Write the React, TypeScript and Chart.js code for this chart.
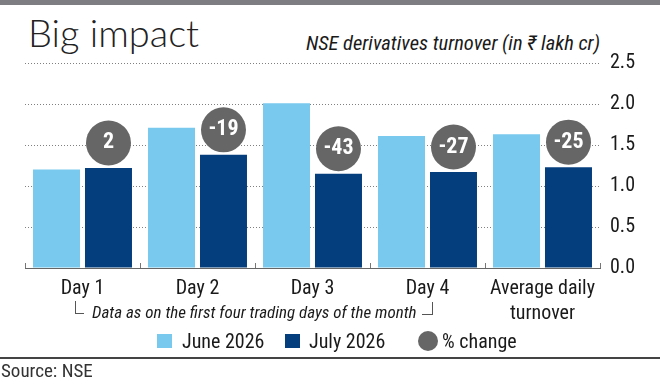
import React, { useEffect, useRef } from "react";
import { Chart, registerables } from "chart.js";

Chart.register(...registerables);

// ---- data ----
const categories: (string | string[])[] = ["Day 1", "Day 2", "Day 3", "Day 4", ["Average daily", "turnover"]];
const june2026 = [1.2, 1.71, 2.01, 1.61, 1.63];
const july2026 = [1.22, 1.38, 1.15, 1.17, 1.23];
const pctChange = [2, -19, -43, -27, -25];
const yMin = 0;
const yMax = 2.5;
const yStep = 0.5;

const NARROW = '"Roboto Condensed", "Open Sans Condensed", sans-serif';
const LIGHT_BLUE = "#79c9ee";
const DARK_BLUE = "#053e7d";
const BADGE_GREY = "#666666";
const TEXT = "#1a1a1a";

const badgePlugin = {
  id: "badges",
  afterDatasetsDraw(chart: any) {
    const meta = chart.getDatasetMeta(1);
    const ctx = chart.ctx as CanvasRenderingContext2D;
    meta.data.forEach((el: any, i: number) => {
      const { x, y } = el.getProps(["x", "y"], true);
      const cy = y - 25;
      ctx.save();
      ctx.beginPath();
      ctx.arc(x, cy, 22.5, 0, Math.PI * 2);
      ctx.fillStyle = BADGE_GREY;
      ctx.fill();
      ctx.fillStyle = "#ffffff";
      ctx.font = `bold 22px ${NARROW}`;
      ctx.textAlign = "center";
      ctx.textBaseline = "middle";
      ctx.fillText(String(pctChange[i]), x, cy);
      ctx.restore();
    });
  },
};

const tickMarksPlugin = {
  id: "upTicks",
  afterDraw(chart: any) {
    const { ctx, chartArea } = chart;
    const n = categories.length;
    const w = (chartArea.right - chartArea.left) / n;
    ctx.save();
    ctx.strokeStyle = "#777";
    ctx.lineWidth = 1;
    for (let i = 0; i <= n; i++) {
      const x = Math.round(chartArea.left + i * w) + 0.5;
      ctx.beginPath();
      ctx.moveTo(x, chartArea.bottom - 5);
      ctx.lineTo(x, chartArea.bottom);
      ctx.stroke();
    }
    ctx.restore();
  },
};

export default function App() {
  const canvasRef = useRef<HTMLCanvasElement | null>(null);

  useEffect(() => {
    if (!canvasRef.current) return;
    const chart = new Chart(canvasRef.current, {
      type: "bar",
      data: {
        labels: categories as any,
        datasets: [
          {
            label: "June 2026",
            data: june2026,
            backgroundColor: LIGHT_BLUE,
            categoryPercentage: 0.904,
            barPercentage: 0.904,
          },
          {
            label: "July 2026",
            data: july2026,
            backgroundColor: DARK_BLUE,
            categoryPercentage: 0.904,
            barPercentage: 0.904,
          },
        ],
      },
      options: {
        responsive: false,
        animation: false,
        devicePixelRatio: 1,
        layout: { padding: { left: 25, top: 63, right: 0, bottom: 0 } },
        plugins: {
          legend: { display: false },
          tooltip: { enabled: false },
          title: { display: false },
        },
        scales: {
          x: {
            grid: { display: false, drawTicks: false },
            border: { display: true, color: "#666", width: 1 },
            ticks: {
              color: TEXT,
              font: { family: NARROW, size: 20, lineHeight: 1.25 },
              padding: 8,
              maxRotation: 0,
              autoSkip: false,
            },
            afterFit(scale: any) {
              scale.height = 113;
            },
          },
          y: {
            position: "right",
            min: yMin,
            max: yMax,
            grid: { color: "#808080", lineWidth: 1, drawTicks: false },
            border: { display: false, dash: [1, 2] },
            ticks: {
              stepSize: yStep,
              color: TEXT,
              padding: 10,
              font: { family: NARROW, size: 20 },
              callback: (v: any) => Number(v).toFixed(1),
            },
            afterFit(scale: any) {
              scale.width = 60;
            },
          },
        },
      },
      plugins: [badgePlugin, tickMarksPlugin],
    });
    return () => chart.destroy();
  }, []);

  const abs = (s: React.CSSProperties): React.CSSProperties => ({ position: "absolute", whiteSpace: "nowrap", ...s });
  const txt = (size: number, extra: React.CSSProperties = {}): React.CSSProperties =>
    abs({ fontFamily: NARROW, fontSize: size, lineHeight: `${size}px`, color: TEXT, ...extra });

  return (
    <div style={{ position: "fixed", left: 0, top: 0, width: 660, height: 381, background: "#fff", overflow: "hidden" }}>
      <div style={abs({ left: 0, top: 0, width: 660, height: 5, background: "#7d7d82" })} />
      <div
        style={abs({
          left: 28,
          top: 13,
          fontFamily: "Lato, sans-serif",
          fontWeight: 300,
          fontSize: 38,
          lineHeight: "38px",
          color: "#222",
        })}
      >
        Big impact
      </div>
      <div style={txt(20.5, { right: 60, top: 32.5, fontStyle: "italic" })}>NSE derivatives turnover (in ₹ lakh cr)</div>
      <canvas ref={canvasRef} width={660} height={381} style={{ position: "absolute", left: 0, top: 0, width: 660, height: 381 }} />
      {/* bracket note */}
      <div style={abs({ left: 75, top: 301, width: 8, height: 12, borderLeft: "1px solid #555", borderBottom: "1px solid #555" })} />
      <div style={abs({ left: 422, top: 302, width: 10, height: 12, borderRight: "1px solid #555", borderBottom: "1px solid #555" })} />
      <div style={txt(17, { left: 92, top: 304, fontStyle: "italic" })}>Data as on the first four trading days of the month</div>
      {/* legend */}
      <div style={abs({ left: 157, top: 334, width: 15, height: 14, background: LIGHT_BLUE })} />
      <div style={txt(20, { left: 182, top: 331 })}>June 2026</div>
      <div style={abs({ left: 285, top: 334, width: 15, height: 14, background: DARK_BLUE })} />
      <div style={txt(20, { left: 309, top: 331 })}>July 2026</div>
      <div style={abs({ left: 418, top: 331, width: 20, height: 20, borderRadius: 10, background: BADGE_GREY })} />
      <div style={txt(20, { left: 442, top: 331 })}>% change</div>
      {/* source */}
      <div style={abs({ left: 0, top: 357, width: 660, height: 2, background: "#444" })} />
      <div style={txt(19, { left: 1, top: 361, color: "#333" })}>Source: NSE</div>
    </div>
  );
}
